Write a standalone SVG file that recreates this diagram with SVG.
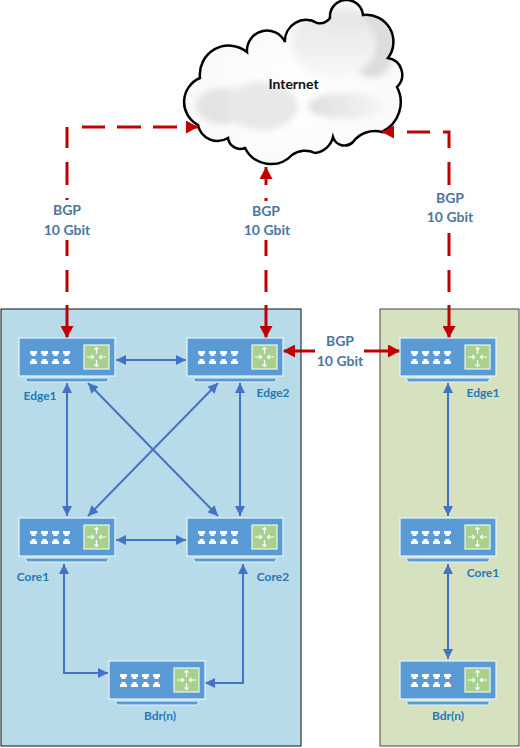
<svg xmlns="http://www.w3.org/2000/svg" xmlns:xlink="http://www.w3.org/1999/xlink" width="520" height="748" viewBox="0 0 520 748">
<style>
.lbl{font-family:Lato,"Liberation Sans",sans-serif;font-size:14px;font-weight:700;fill:#4a76a0;text-anchor:middle}
.name{font-family:Lato,"Liberation Sans",sans-serif;font-size:12px;font-weight:700;fill:#1f7ab5;text-anchor:middle}
.red{fill:none;stroke:#c00000;stroke-width:3}
.blue{fill:none;stroke:#4472c4;stroke-width:2}
.body{fill:#5b9bd5;stroke:#e8f4fa;stroke-width:1.2}
.port{fill:#fff}
.sw{fill:#a9d18e;stroke:#eef6e8;stroke-width:1.2}
.ar{fill:none;stroke:#fff;stroke-width:1.2}
</style>
<defs>
<marker id="rh" markerUnits="userSpaceOnUse" markerWidth="13" markerHeight="13" refX="12" refY="6.500" orient="auto-start-reverse"><path d="M0 0L12 6.500L0 13z" fill="#c00000"/></marker>
<marker id="bh" markerUnits="userSpaceOnUse" markerWidth="10" markerHeight="10" refX="10" refY="5" orient="auto-start-reverse"><path d="M0 0L10 5L0 10z" fill="#4472c4"/></marker>
<filter id="soft" x="-20%" y="-20%" width="140%" height="140%"><feGaussianBlur stdDeviation="3"/></filter>
<linearGradient id="up" x1="0" y1="0" x2="0" y2="1"><stop offset="0" stop-color="#e6e6e6"/><stop offset="1" stop-color="#f8f8f8"/></linearGradient>
<linearGradient id="lr" x1="0" y1="0" x2="1" y2="0"><stop offset="0" stop-color="#dedede"/><stop offset="1" stop-color="#f6f6f6"/></linearGradient>
<radialGradient id="cg" cx="50%" cy="60%" r="60%"><stop offset="0" stop-color="#fff"/><stop offset="1" stop-color="#f8f8f8"/></radialGradient>
<clipPath id="cc"><path id="cloudp" d="M198 125A26 26 0 0 1 200 78A29 29 0 0 1 247 52A20 20 0 0 1 285 42A21 21 0 0 1 317 23A13 13 0 0 0 330 18A16.500 16.500 0 0 1 363 15A27 27 0 0 1 388 58A17 17 0 0 1 397 87A33 33 0 0 1 382 132A27 27 0 0 0 353 142A12 12 0 0 1 333 137A21 21 0 0 1 315 153A22 22 0 0 0 292 155A29 29 0 0 1 245 148A12.500 12.500 0 0 1 228 138A20 20 0 0 1 198 125Z"/></clipPath>
<g id="router">
<rect class="body" x="0" y="0" width="96" height="38"/>
<path d="M6 40H90L88 44H8z" fill="#5b9bd5" stroke="#e8f4fa" stroke-width="1"/>
<path class="port" d="M11 13h7v3h-1.500v2h-4v-2h-1.500zM22 13h7v3h-1.500v2h-4v-2h-1.500zM33 13h7v3h-1.500v2h-4v-2h-1.500zM44 13h7v3h-1.500v2h-4v-2h-1.500z"/>
<path class="port" d="M11 26h7v-3h-1.500v-2h-4v2h-1.500zM22 26h7v-3h-1.500v-2h-4v2h-1.500zM33 26h7v-3h-1.500v-2h-4v2h-1.500zM44 26h7v-3h-1.500v-2h-4v2h-1.500z"/>
<rect class="sw" x="65" y="7" width="25" height="24"/>
<path class="ar" d="M77.500 9.500v6.500M75.500 11.500l2-2l2 2M77.500 28.500v-6.500M75.500 26.500l2 2l2-2M68 19h6.500M72.500 17l2 2l-2 2M87 19h-6.500M82.500 17l-2 2l2 2"/>
</g>
</defs>
<rect width="520" height="748" fill="#fff"/>
<rect x="1" y="309" width="300" height="437" fill="#b7dbe9" stroke="#111" stroke-width="1"/>
<rect x="380" y="309" width="139" height="437" fill="#d6e1bf" stroke="#444" stroke-width="1"/>
<g id="internet">
<use xlink:href="#cloudp" href="#cloudp" fill="url(#cg)"/>
<g clip-path="url(#cc)"><g filter="url(#soft)">
<ellipse cx="372" cy="44" rx="24" ry="34" fill="#dddddd"/>
<ellipse cx="334" cy="44" rx="42" ry="34" fill="url(#up)"/>
<ellipse cx="345" cy="20" rx="20" ry="12" fill="#e8e8e8"/>
<ellipse cx="222" cy="106" rx="26" ry="18" fill="#e3e3e3"/>
<ellipse cx="262" cy="106" rx="36" ry="24" fill="#e8e8e8"/>
<ellipse cx="346" cy="106" rx="38" ry="13" fill="url(#lr)"/>
</g></g>
<use xlink:href="#cloudp" href="#cloudp" fill="none" stroke="#000" stroke-width="2.5"/>
<text x="293.500" y="89" font-family="Lato,'Liberation Sans',sans-serif" font-size="14" font-weight="700" fill="#111" text-anchor="middle">Internet</text>
</g>
<g id="connectors">
<path class="red" d="M67 200V198M67 185V162M67 148V127M82 127H105M117 127H141M153 127H177"/>
<path class="red" d="M186 127H198" stroke-width="0" marker-end="url(#rh)"/>
<path class="red" d="M67 240V256M67 270V292"/>
<path class="red" d="M67 305V338" marker-end="url(#rh)"/>
<path class="red" d="M266 185V167" marker-end="url(#rh)"/>
<path class="red" d="M266 201V198M266 240V256M266 270V292"/>
<path class="red" d="M266 305V338" marker-end="url(#rh)"/>
<path class="red" d="M394 132H382" stroke-width="0" marker-end="url(#rh)"/>
<path class="red" d="M430 132H407M443 132H449V148M449 162V185M449 233V256M449 270V292"/>
<path class="red" d="M449 305V338" marker-end="url(#rh)"/>
<path class="red" d="M315 351H283" marker-end="url(#rh)"/>
<path class="red" d="M364 351H400" marker-end="url(#rh)"/>
<path class="blue" d="M116 360H186" marker-start="url(#bh)" marker-end="url(#bh)"/>
<path class="blue" d="M67 383V516" marker-start="url(#bh)" marker-end="url(#bh)"/>
<path class="blue" d="M240 383V516" marker-start="url(#bh)" marker-end="url(#bh)"/>
<path class="blue" d="M88 383L218 516" marker-start="url(#bh)" marker-end="url(#bh)"/>
<path class="blue" d="M218 383L88 516" marker-start="url(#bh)" marker-end="url(#bh)"/>
<path class="blue" d="M116 540H186" marker-start="url(#bh)" marker-end="url(#bh)"/>
<path class="blue" d="M64 564V673H108" marker-start="url(#bh)" marker-end="url(#bh)"/>
<path class="blue" d="M243 564V683H205" marker-start="url(#bh)" marker-end="url(#bh)"/>
<path class="blue" d="M448 383V516" marker-start="url(#bh)" marker-end="url(#bh)"/>
<path class="blue" d="M448 564V659" marker-start="url(#bh)" marker-end="url(#bh)"/>
</g>
<g id="edge1"><use href="#router" xlink:href="#router" x="19" y="338"/><text class="name" x="40" y="400">Edge1</text></g>
<g id="edge2"><use href="#router" xlink:href="#router" x="187" y="338"/><text class="name" x="273" y="397">Edge2</text></g>
<g id="core1"><use href="#router" xlink:href="#router" x="19" y="518"/><text class="name" x="33" y="581">Core1</text></g>
<g id="core2"><use href="#router" xlink:href="#router" x="187" y="518"/><text class="name" x="273" y="581">Core2</text></g>
<g id="bdr"><use href="#router" xlink:href="#router" x="109" y="661"/><text class="name" x="160" y="720">Bdr(n)</text></g>
<g id="r-edge1"><use href="#router" xlink:href="#router" x="400" y="338"/><text class="name" x="483" y="397">Edge1</text></g>
<g id="r-core1"><use href="#router" xlink:href="#router" x="400" y="518"/><text class="name" x="483" y="577">Core1</text></g>
<g id="r-bdr"><use href="#router" xlink:href="#router" x="400" y="661"/><text class="name" x="448" y="720">Bdr(n)</text></g>
<g id="labels">
<text class="lbl" x="67" y="215">BGP</text><text class="lbl" x="67" y="235">10 Gbit</text>
<text class="lbl" x="266" y="216">BGP</text><text class="lbl" x="267" y="235">10 Gbit</text>
<text class="lbl" x="450" y="203">BGP</text><text class="lbl" x="450" y="222">10 Gbit</text>
<text class="lbl" x="340" y="346">BGP</text><text class="lbl" x="340" y="366">10 Gbit</text>
</g>
</svg>
